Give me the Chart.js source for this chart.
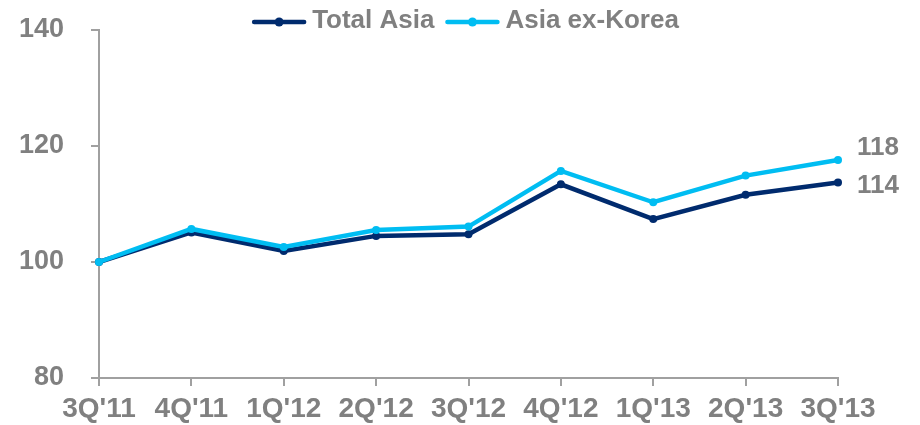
<!DOCTYPE html>
<html>
<head>
<meta charset="utf-8">
<script src="https://cdn.jsdelivr.net/npm/chart.js@4/dist/chart.umd.min.js"></script>
<style>
  html, body { margin: 0; padding: 0; background: #fff; }
  #wrap { width: 920px; height: 425px; position: relative; }
</style>
</head>
<body>
<div id="wrap"><canvas id="c"></canvas></div>
<script>
const categories = ["3Q'11", "4Q'11", "1Q'12", "2Q'12", "3Q'12", "4Q'12", "1Q'13", "2Q'13", "3Q'13"];
const totalAsia = [100, 105.1, 101.9, 104.5, 104.8, 113.4, 107.4, 111.6, 113.7];
const asiaExKorea = [100, 105.7, 102.6, 105.5, 106.1, 115.7, 110.3, 114.9, 117.6];
const yTicks = [80, 100, 120, 140];

const GRAY = '#808080';
const AXIS = '#a0a0a0';
const DARK = '#002B6E';
const LIGHT = '#00BDF2';
const FONT = "'Liberation Sans', Arial, sans-serif";

const customLegend = {
  id: 'customLegend',
  afterDraw(chart) {
    const ctx = chart.ctx;
    const area = chart.chartArea;
    ctx.save();
    ctx.font = 'bold 26px ' + FONT;
    const markerW = 54, gapText = 6, gapItem = 11;
    const items = chart.data.datasets.map(ds => ({
      label: ds.label, color: ds.borderColor, w: ctx.measureText(ds.label).width
    }));
    let total = 0;
    items.forEach((it, i) => { total += markerW + gapText + it.w + (i ? gapItem : 0); });
    let x = (area.left + area.right) / 2 - total / 2 - 3;
    const y = 21;
    items.forEach(it => {
      ctx.strokeStyle = it.color;
      ctx.lineWidth = 4.5;
      ctx.lineCap = 'round';
      ctx.beginPath();
      ctx.moveTo(x + 2, y + 1);
      ctx.lineTo(x + markerW - 2, y + 1);
      ctx.stroke();
      ctx.fillStyle = it.color;
      ctx.beginPath();
      ctx.arc(x + markerW / 2, y + 1, 4.5, 0, Math.PI * 2);
      ctx.fill();
      ctx.fillStyle = GRAY;
      ctx.textBaseline = 'middle';
      ctx.textAlign = 'left';
      ctx.fillText(it.label, x + markerW + gapText, y);
      x += markerW + gapText + it.w + gapItem;
    });
    ctx.restore();
  }
};

const endLabels = {
  id: 'endLabels',
  afterDatasetsDraw(chart) {
    const ctx = chart.ctx;
    const offsets = [3, -12];
    ctx.save();
    ctx.font = 'bold 26px ' + FONT;
    ctx.fillStyle = GRAY;
    ctx.textBaseline = 'middle';
    ctx.textAlign = 'left';
    chart.data.datasets.forEach((ds, i) => {
      const meta = chart.getDatasetMeta(i);
      const pt = meta.data[meta.data.length - 1];
      const v = ds.data[ds.data.length - 1];
      ctx.fillText(String(Math.round(v)), pt.x + 19, pt.y + offsets[i]);
    });
    ctx.restore();
  }
};

new Chart(document.getElementById('c'), {
  type: 'line',
  data: {
    labels: categories,
    datasets: [
      {
        label: 'Total Asia', data: totalAsia, order: 1,
        borderColor: DARK, backgroundColor: DARK, borderWidth: 4.5,
        pointRadius: 4, pointBackgroundColor: DARK, pointBorderWidth: 0,
        tension: 0
      },
      {
        label: 'Asia ex-Korea', data: asiaExKorea, order: 0,
        borderColor: LIGHT, backgroundColor: LIGHT, borderWidth: 4.5,
        pointRadius: 4, pointBackgroundColor: LIGHT, pointBorderWidth: 0,
        tension: 0
      }
    ]
  },
  options: {
    responsive: true,
    maintainAspectRatio: false,
    animation: false,
    layout: { padding: { left: 0, right: 82, top: 30, bottom: 0 } },
    plugins: {
      legend: { display: false },
      tooltip: { enabled: false }
    },
    scales: {
      x: {
        offset: false,
        afterFit(axis) { axis.height = 47; },
        grid: { display: true, drawOnChartArea: false, drawTicks: true, tickLength: 8, color: AXIS, lineWidth: 2 },
        border: { display: true, color: AXIS, width: 2 },
        ticks: { color: GRAY, font: { family: FONT, size: 28, weight: 'bold' }, padding: 6, maxRotation: 0, autoSkip: false }
      },
      y: {
        min: yTicks[0], max: yTicks[yTicks.length - 1],
        afterBuildTicks(axis) { axis.ticks = yTicks.map(v => ({ value: v })); },
        afterFit(axis) { axis.width = 99; axis.paddingTop = 0; axis.paddingBottom = 0; },
        grid: { display: true, drawOnChartArea: false, drawTicks: true, tickLength: 8, color: AXIS, lineWidth: 2 },
        border: { display: true, color: AXIS, width: 2 },
        ticks: { color: GRAY, font: { family: FONT, size: 27, weight: 'bold' }, padding: 27 }
      }
    }
  },
  plugins: [customLegend, endLabels]
});
</script>
</body>
</html>
